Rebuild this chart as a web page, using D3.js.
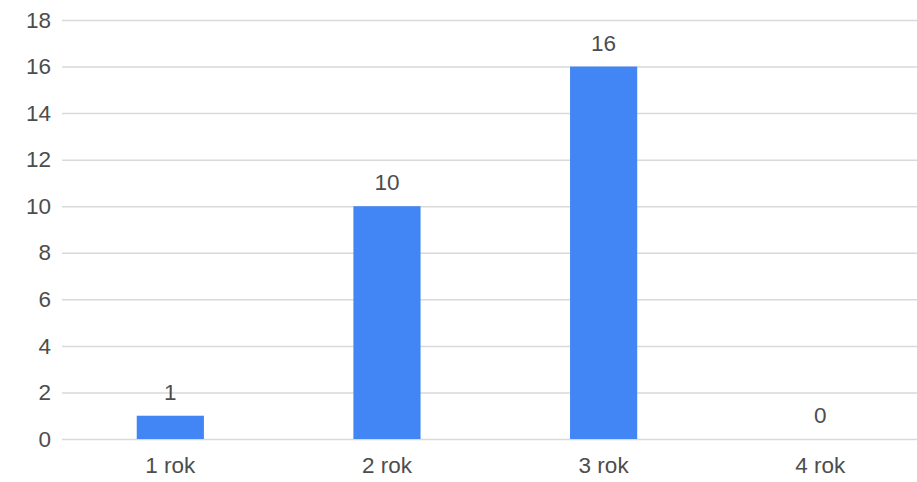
<!DOCTYPE html>
<html><head><meta charset="utf-8">
<script src="https://cdn.jsdelivr.net/npm/d3@7"></script>
<style>html,body{margin:0;padding:0;background:#fff;}svg{display:block;}</style>
</head><body>
<svg id="chart" width="917" height="482"></svg>
<script>
const categories = ["1 rok", "2 rok", "3 rok", "4 rok"];
const values = [1, 10, 16, 0];
const yTicks = [0, 2, 4, 6, 8, 10, 12, 14, 16, 18];

const W = 917, H = 482;
const m = {left: 62, right: -11.6, top: 20, bottom: 43};
const svg = d3.select("#chart");
const x = d3.scaleBand().domain(categories).range([m.left, W - m.right]).paddingInner(0.69).paddingOuter(0.345);
const y = d3.scaleLinear().domain([0, 18]).range([H - m.bottom, m.top]);
const font = "'Liberation Sans', Arial, sans-serif";
const textColor = "#4d4d4d";
const fs = "22.5px";

const yAxis = d3.axisLeft(y).tickValues(yTicks).tickSize(-(W - m.right - m.left)).tickPadding(11);
const gy = svg.append("g").attr("transform", `translate(${m.left},0)`).call(yAxis);
gy.select(".domain").remove();
gy.selectAll(".tick line").attr("stroke", "#d9d9d9").attr("stroke-width", 1.5);
gy.selectAll(".tick text").attr("fill", textColor).style("font-family", font).style("font-size", fs);

svg.append("g").selectAll("rect").data(values).join("rect")
  .attr("x", (d, i) => x(categories[i]))
  .attr("width", x.bandwidth())
  .attr("y", d => y(d))
  .attr("height", d => y(0) - y(d))
  .attr("fill", "#4285f4");

svg.append("g").selectAll("text").data(values).join("text")
  .attr("x", (d, i) => x(categories[i]) + x.bandwidth() / 2)
  .attr("y", d => y(d) - 16)
  .attr("text-anchor", "middle")
  .attr("fill", textColor)
  .style("font-family", font).style("font-size", fs)
  .text(d => d);

const xAxis = d3.axisBottom(x).tickSize(0).tickPadding(18);
const gx = svg.append("g").attr("transform", `translate(0,${H - m.bottom})`).call(xAxis);
gx.select(".domain").remove();
gx.selectAll(".tick text").attr("fill", textColor).style("font-family", font).style("font-size", fs);
</script>
</body></html>
